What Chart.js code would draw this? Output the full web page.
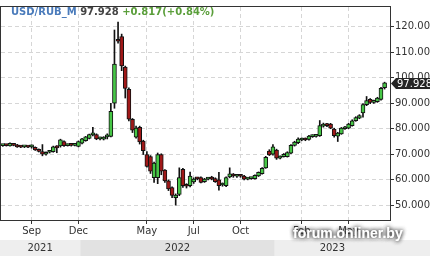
<!DOCTYPE html>
<html>
<head>
<meta charset="utf-8">
<script src="https://cdn.jsdelivr.net/npm/chart.js@4.4.0/dist/chart.umd.min.js"></script>
<style>
  html, body { margin: 0; padding: 0; background: #fff; }
</style>
</head>
<body>
<canvas id="chart" width="430" height="256"></canvas>
<script>
// weekly candles, USD/RUB_M
const opens = [73.4,73.6,73.3,73.7,73.7,73.0,72.9,73.0,72.9,72.7,71.9,71.1,70.0,70.8,71.0,72.8,73.3,75.0,73.4,73.7,
  73.5,73.1,74.3,75.3,76.2,77.6,77.7,76.0,75.9,76.8,77.0,90.0,114.8,116.0,104.1,95.4,83.7,76.7,80.5,75.2,
  69.9,69.1,60.9,60.9,69.9,63.8,59.6,57.0,53.0,54.3,64.1,57.8,57.7,59.2,60.5,60.9,59.3,60.3,61.1,60.5,
  60.0,58.0,57.7,61.1,62.2,61.4,61.8,61.5,60.3,60.5,60.5,61.5,62.4,64.7,71.3,70.0,71.6,68.5,69.1,69.1,
  70.4,73.5,74.5,75.6,75.9,75.8,76.9,77.0,77.3,81.0,81.6,81.8,79.9,77.1,78.0,80.0,80.2,81.2,83.1,84.1,
  86.2,89.4,91.5,90.3,90.6,91.5,96.1];
const highs = [73.8,73.9,74.5,74.0,73.9,73.4,73.3,73.3,73.7,72.9,72.1,73.8,71.0,71.4,73.2,73.4,75.9,75.3,74.0,73.9,
  73.9,75.2,76.2,77.0,77.9,80.5,78.0,76.7,76.9,78.0,89.9,118.6,121.7,117.0,104.5,96.0,84.0,81.0,81.0,75.5,
  71.1,69.5,67.0,70.5,70.2,64.0,60.0,57.3,54.5,64.7,64.5,58.5,63.0,60.8,61.0,61.2,60.6,61.0,61.4,60.8,
  62.9,58.8,61.2,64.7,62.5,62.0,62.1,61.8,60.9,61.0,62.0,63.1,64.8,69.2,71.8,73.8,72.0,69.4,70.3,71.0,
  73.8,75.1,76.4,76.4,76.4,77.4,77.6,77.8,83.2,82.2,82.1,82.1,80.2,78.6,80.5,80.9,82.1,83.5,84.7,85.5,
  89.8,92.6,91.8,91.2,92.3,96.2,98.2];
const lows = [73.1,73.2,73.2,73.3,72.7,72.6,72.6,72.6,72.4,71.5,70.9,69.4,69.7,70.5,70.8,70.6,72.8,73.1,73.2,73.2,
  73.3,72.9,74.1,75.1,76.0,77.2,75.7,75.6,75.6,76.0,76.8,88.0,113.5,102.7,92.0,83.0,78.5,76.3,74.0,69.9,
  65.0,62.5,59.0,58.5,62.0,59.0,55.8,53.0,50.1,53.8,57.0,56.8,57.2,58.6,60.0,58.8,59.0,60.0,60.0,59.0,
  56.0,57.5,57.3,60.8,61.0,61.0,61.0,60.0,60.0,60.2,60.3,61.3,62.2,64.5,69.5,69.7,68.0,68.2,68.9,68.9,
  70.2,73.2,74.2,75.3,75.3,75.5,76.6,76.7,77.0,80.6,80.8,80.0,76.7,75.0,77.8,79.7,80.0,81.0,82.9,83.9,
  84.5,89.0,89.8,89.9,90.3,91.2,95.5];
const closes = [73.6,73.4,74.3,73.5,72.9,72.8,73.1,72.8,73.1,71.7,71.1,70.0,70.8,71.2,72.9,72.5,75.7,73.4,73.8,73.5,
  73.7,75.0,76.0,76.8,77.7,77.9,76.0,76.3,76.6,77.0,86.8,105.3,114.2,104.6,95.8,83.7,79.4,80.2,74.8,71.4,
  65.3,63.4,66.6,69.9,63.4,59.6,56.5,53.9,54.0,60.9,57.7,57.5,61.5,60.3,60.4,59.0,60.3,60.6,60.3,59.3,
  57.7,58.4,60.9,62.4,61.5,61.8,61.4,60.3,60.6,60.8,61.8,62.9,64.5,68.8,69.8,72.9,68.5,69.1,70.0,70.7,
  73.5,74.8,75.9,76.0,75.6,77.1,77.2,77.4,81.2,81.7,81.2,80.2,77.3,78.3,80.2,80.5,81.8,83.1,84.4,85.1,
  89.4,91.0,90.3,90.8,92.0,95.8,97.928];

const slotCount = 108;
const monthTickIdx = [8, 21, 40, 53, 66, 83, 96];
const monthTickText = ['Sep', 'Dec', 'May', 'Jul', 'Oct', 'Feb', 'May'];
const yearText = ['2021', '2022', '2023'];
const yearStartIdx = [0, 22, 76];
const yTicks = [50, 60, 70, 80, 90, 100, 110, 120];

const symbol = 'USD/RUB_M';
const lastPrice = '97.928';
const change = '+0.817(+0.84%)';

const labels = Array.from({ length: slotCount }, (_, i) => {
  const k = monthTickIdx.indexOf(i);
  return k >= 0 ? monthTickText[k] : '';
});
const upColor = '#46c646';
const downColor = '#a01818';
const candleColor = (i) => closes[i] >= opens[i] ? upColor : downColor;

const frame = {
  id: 'frame',
  beforeDraw(chart) {
    const { ctx, scales: { x } } = chart;
    ctx.save();
    ctx.fillStyle = '#fff';
    ctx.fillRect(0, 0, chart.width, chart.height);
    // year band
    const edge = (idx) => idx === 0 ? 0 : (x.getPixelForValue(idx - 1) + x.getPixelForValue(idx)) / 2;
    yearText.forEach((t, k) => {
      const x0 = edge(yearStartIdx[k]);
      const x1 = k + 1 < yearText.length ? edge(yearStartIdx[k + 1]) : chart.width;
      ctx.fillStyle = k % 2 ? '#e2e2e2' : '#eeeeee';
      ctx.fillRect(x0, 240, x1 - x0, 16);
      ctx.fillStyle = '#333';
      ctx.font = '10px "DejaVu Sans"';
      ctx.textAlign = 'center';
      ctx.textBaseline = 'middle';
      ctx.fillText(t, (x0 + Math.min(x1, chart.chartArea.right)) / 2, 248);
    });
    ctx.restore();
  },
  afterDraw(chart) {
    const { ctx, chartArea: a, scales: { y } } = chart;
    ctx.save();
    ctx.strokeStyle = '#333';
    ctx.lineWidth = 1;
    ctx.strokeRect(a.left - 0.5, a.top - 0.5, a.right - a.left + 1, a.bottom - a.top + 1);

    // title
    ctx.font = 'bold 10px "DejaVu Sans"';
    ctx.textBaseline = 'alphabetic';
    let tx = 11;
    [[symbol, '#4a7bbb'], [' ' + lastPrice, '#444'], [' ' + change, '#5a9e3a']].forEach(([s, c]) => {
      ctx.fillStyle = c;
      ctx.fillText(s, tx, 15);
      tx += ctx.measureText(s).width;
    });

    // last price marker
    const py = Math.round(y.getPixelForValue(closes[closes.length - 1])) + 0.5;
    ctx.fillStyle = '#262626';
    ctx.beginPath();
    ctx.moveTo(391, py);
    ctx.lineTo(396, py - 5.5);
    ctx.lineTo(430, py - 5.5);
    ctx.lineTo(430, py + 5.5);
    ctx.lineTo(396, py + 5.5);
    ctx.closePath();
    ctx.fill();
    ctx.fillStyle = '#fff';
    ctx.font = '10px "DejaVu Sans"';
    ctx.textBaseline = 'middle';
    ctx.fillText(lastPrice, 397, py + 0.5);

    // watermark
    ctx.font = 'bold 14px "Liberation Sans"';
    ctx.textBaseline = 'alphabetic';
    ctx.shadowColor = 'rgba(40,40,40,0.9)';
    ctx.shadowBlur = 4;
    ctx.fillStyle = '#fff';
    ctx.fillText('forum.onliner.by', 293, 238);
    ctx.fillText('forum.onliner.by', 293, 238);
    ctx.restore();
  }
};

new Chart(document.getElementById('chart'), {
  type: 'bar',
  data: {
    labels: labels,
    datasets: [{
      data: lows.map((l, i) => [l, highs[i]]),
      backgroundColor: '#111',
      barThickness: 1,
      grouped: false,
      order: 2,
    }, {
      data: opens.map((o, i) => [o, closes[i]]),
      backgroundColor: (c) => candleColor(c.dataIndex),
      borderColor: '#111',
      borderWidth: 1,
      borderSkipped: false,
      barThickness: 4,
      minBarLength: 2,
      grouped: false,
      order: 1,
    }]
  },
  options: {
    responsive: false,
    animation: false,
    layout: { padding: { left: 1, top: 1, right: 0, bottom: 0 } },
    scales: {
      x: {
        afterFit: (s) => { s.height = 36; },
        grid: {
          offset: false,
          color: (c) => c.tick && c.tick.label ? '#d6d6d6' : 'rgba(0,0,0,0)',
          tickColor: (c) => c.tick && c.tick.label ? '#333' : 'rgba(0,0,0,0)',
          tickLength: 4,
        },
        border: { display: false, dash: [4, 3] },
        ticks: {
          autoSkip: false,
          maxRotation: 0,
          padding: 1,
          color: '#333',
          font: { family: 'DejaVu Sans', size: 10 },
        },
      },
      y: {
        position: 'right',
        min: 44.3,
        max: 127.6,
        afterFit: (s) => { s.width = 40; },
        afterBuildTicks: (s) => { s.ticks = yTicks.map(v => ({ value: v })); },
        grid: { color: '#d6d6d6', tickColor: '#333', tickLength: 4 },
        border: { display: false, dash: [4, 3] },
        ticks: {
          padding: 1,
          color: '#333',
          font: { family: 'DejaVu Sans', size: 10 },
          callback: (v) => Number(v).toFixed(3),
        },
      }
    },
    plugins: {
      legend: { display: false },
      tooltip: { enabled: false },
    }
  },
  plugins: [frame]
});
</script>
</body>
</html>
